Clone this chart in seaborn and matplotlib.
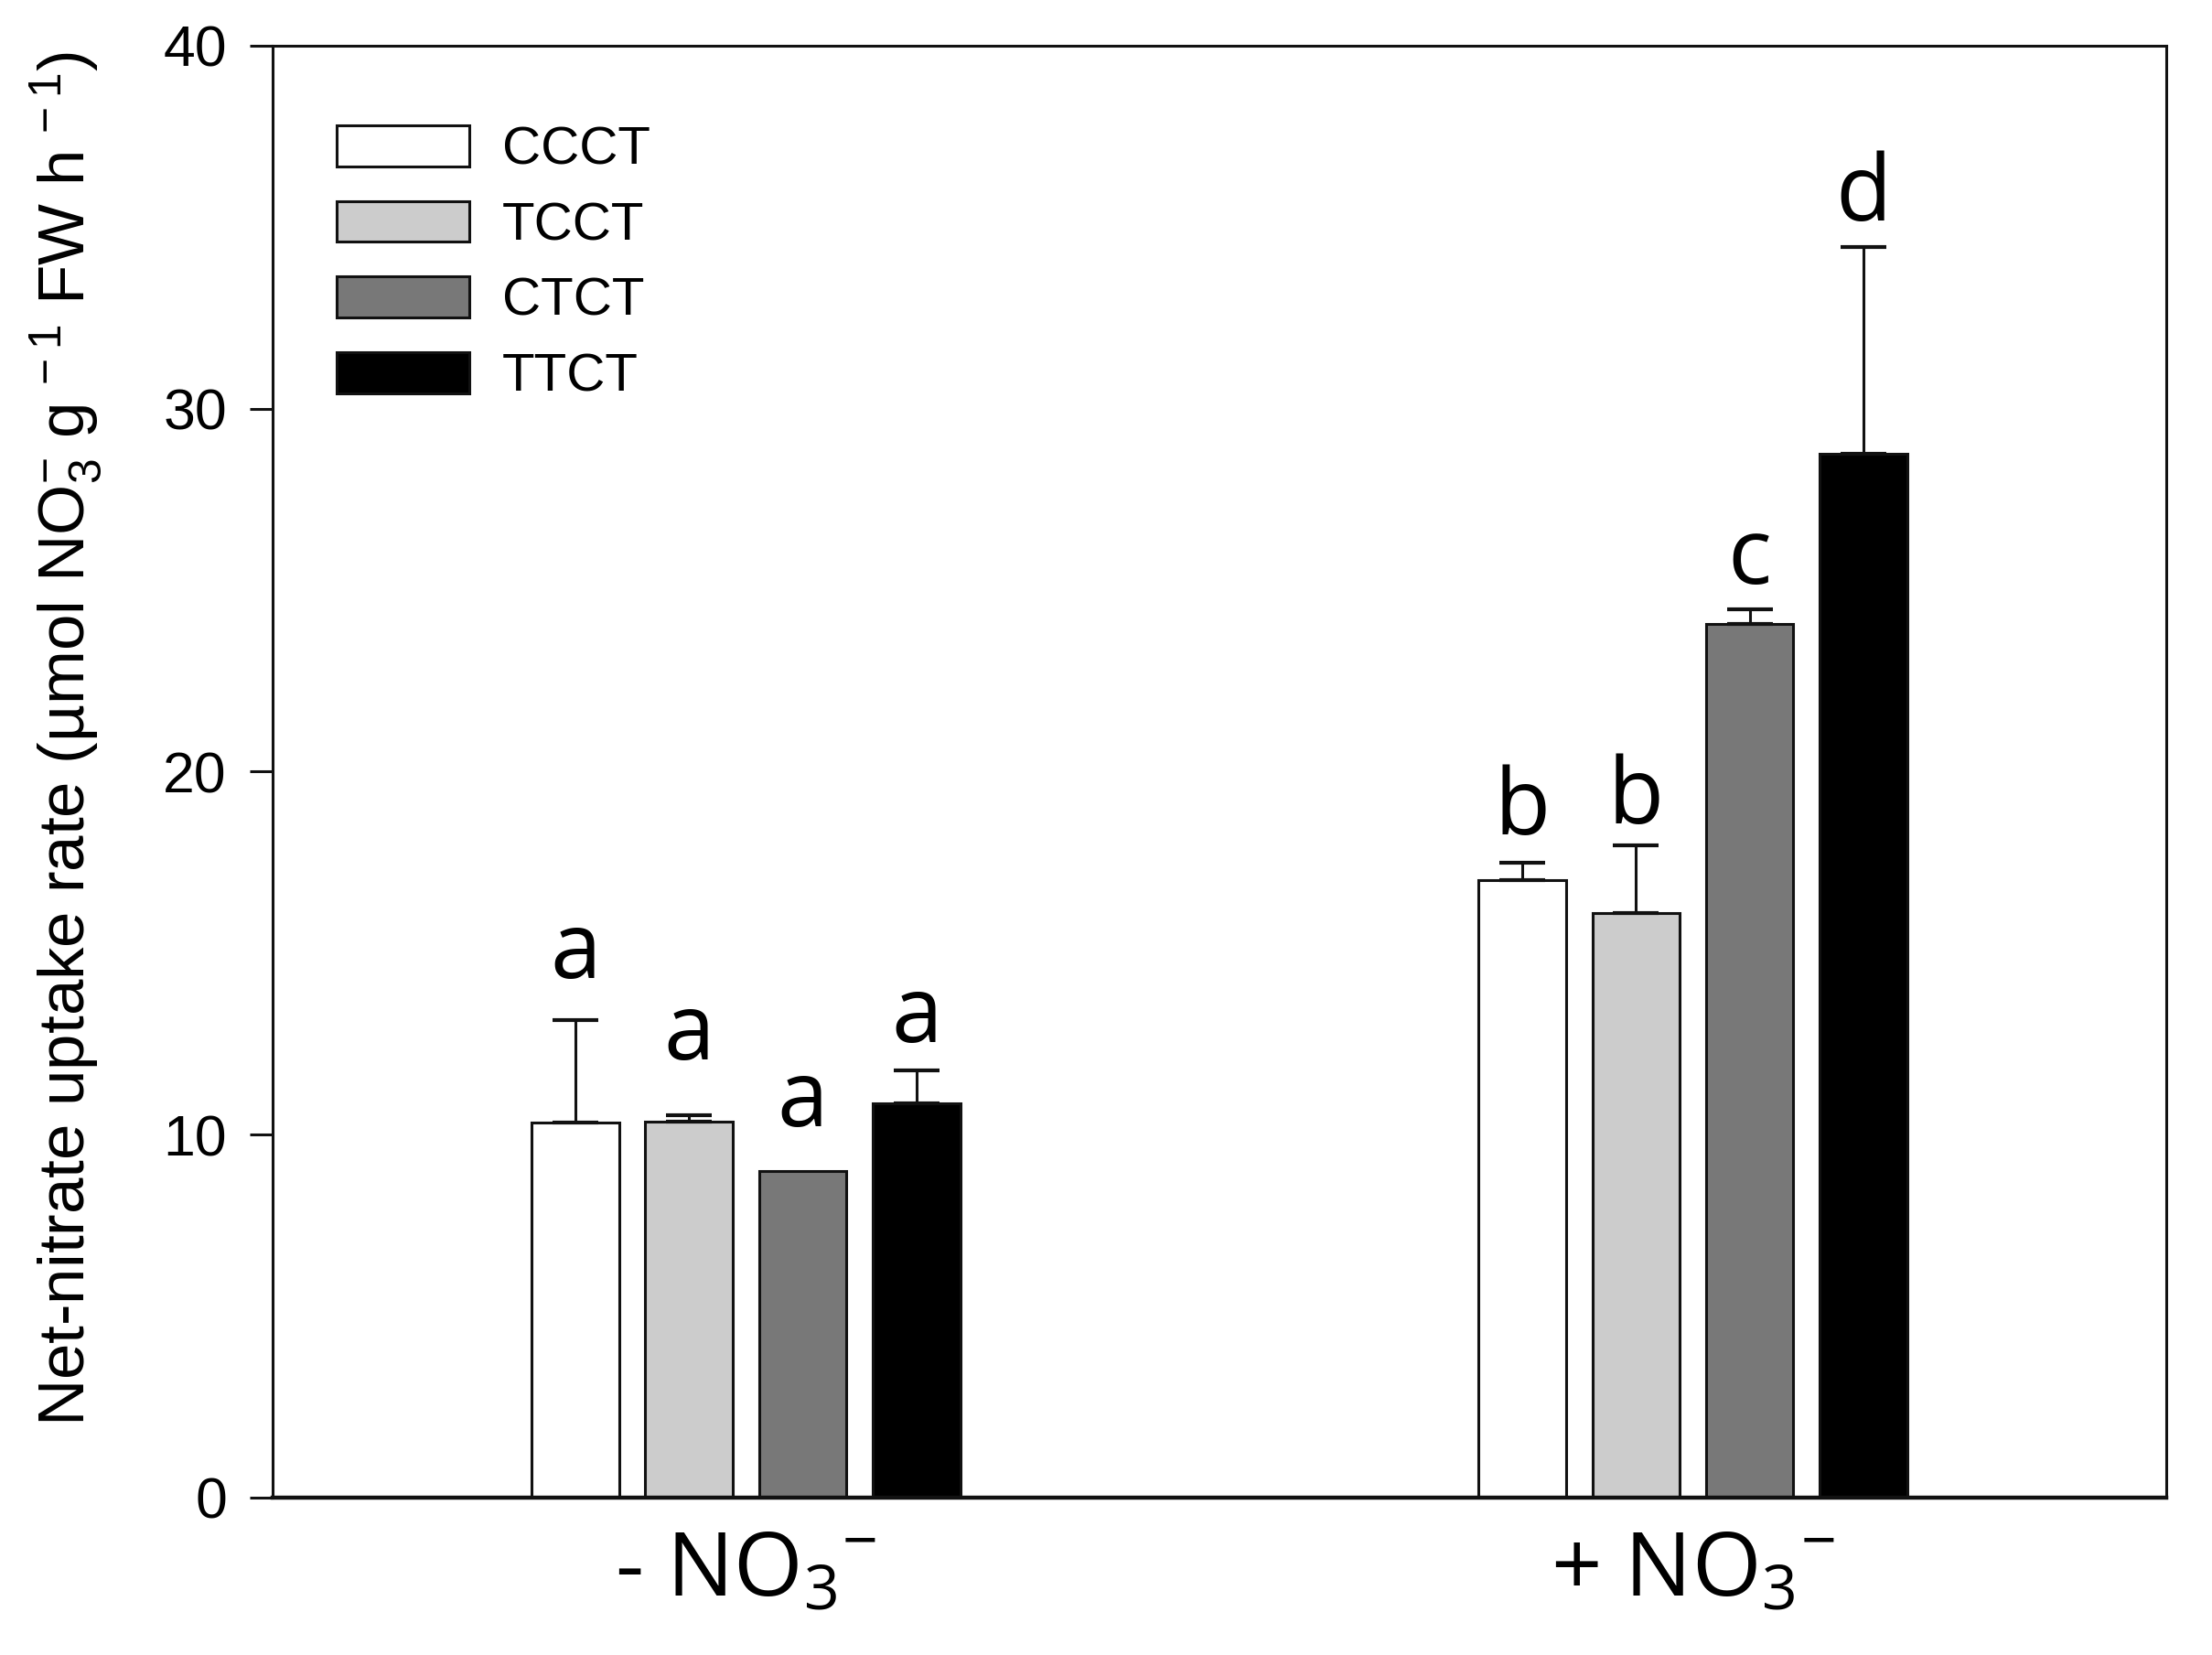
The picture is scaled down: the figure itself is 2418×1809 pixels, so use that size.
import seaborn as sns
import matplotlib.pyplot as plt
import pandas as pd
from matplotlib.patches import Patch

# values
genotypes = ['CCCT', 'TCCT', 'CTCT', 'TTCT']
treatments = ['minus', 'plus']
treatment_labels = [r'- NO$\mathregular{_3{}^{-}}$', r'+ NO$\mathregular{_3{}^{-}}$']
uptake_minus = [10.33, 10.36, 9.00, 10.86]
uptake_plus = [17.01, 16.11, 24.07, 28.76]
err_minus = [2.83, 0.18, 0.0, 0.91]
err_plus = [0.48, 1.87, 0.40, 5.70]
letters_minus = ['a', 'a', 'a', 'a']
letters_plus = ['b', 'b', 'c', 'd']
letter_y_minus = [14.32, 12.07, 10.23, 12.55]
letter_y_plus = [18.27, 18.58, 25.18, 35.19]

bar_colors = ['#ffffff', '#cccccc', '#787878', '#000000']

df = pd.DataFrame({
    'treatment': [treatments[0]] * 4 + [treatments[1]] * 4,
    'genotype': genotypes * 2,
    'rate': uptake_minus + uptake_plus,
    'err': err_minus + err_plus,
    'letter': letters_minus + letters_plus,
    'letter_y': letter_y_minus + letter_y_plus,
})

sns.set_theme(style='ticks')
plt.rcParams['font.family'] = ['Liberation Sans', 'DejaVu Sans']
plt.rcParams.update({'text.color': 'black', 'axes.labelcolor': 'black',
                     'xtick.color': 'black', 'ytick.color': 'black'})

fig = plt.figure(figsize=(12.09, 9.045), dpi=200)
ax = fig.add_axes([0.1232, 0.0951, 0.9793 - 0.1232, 0.9724 - 0.0951])

sns.barplot(data=df, x='treatment', y='rate', hue='genotype',
            order=treatments, hue_order=genotypes, palette=bar_colors,
            width=0.48, gap=0.23, errorbar=None, legend=False,
            edgecolor='#111111', linewidth=1.1, saturation=1, ax=ax)

# upper error bars + significance letters
for cont, g in zip(ax.containers, genotypes):
    sub = df[df['genotype'] == g].set_index('treatment').loc[treatments]
    for bar, (_, row) in zip(cont, sub.iterrows()):
        xc = bar.get_x() + bar.get_width() / 2
        top = bar.get_height()
        if row['err'] > 0:
            ax.errorbar(xc, top, yerr=[[0], [row['err']]], fmt='none',
                        ecolor='#111111', elinewidth=1.1, capsize=9,
                        capthick=1.5, zorder=1)
        ax.text(xc, row['letter_y'], row['letter'], ha='center', va='baseline',
                fontsize=36, fontfamily='Open Sans')

ax.set_xlim(-0.5, 1.5)
ax.set_ylim(0, 40)
ax.set_yticks([0, 10, 20, 30, 40])
ax.set_xticks([0, 1])
ax.set_xticklabels(treatment_labels, fontsize=35, fontfamily='Open Sans')
ax.tick_params(axis='x', length=0, pad=12)
ax.tick_params(axis='y', direction='out', length=9, width=1.1, labelsize=22.5,
               pad=9, color='#111111')
ax.set_xlabel('')
ax.set_ylabel(r'Net-nitrate uptake rate (µmol NO$\mathregular{_3^{-}}$ g$\mathregular{^{\,-1}}$'
              r' FW h$\mathregular{^{\,-1}}$)', fontsize=25.5)
ax.yaxis.set_label_coords(-0.089, 0.523)

for name, sp in ax.spines.items():
    sp.set_visible(True)
    sp.set_color('#111111')
    sp.set_linewidth(1.1)
ax.spines['bottom'].set_linewidth(1.6)

handles = [Patch(facecolor=c, edgecolor='#111111', linewidth=1.1) for c in bar_colors]
ax.legend(handles, genotypes, loc='upper left', bbox_to_anchor=(0.034, 0.945),
          frameon=False, fontsize=21, handlelength=2.48, handleheight=0.8,
          handletextpad=0.62, labelspacing=0.48, borderpad=0, borderaxespad=0)

fig.savefig('out.png', dpi=200)
